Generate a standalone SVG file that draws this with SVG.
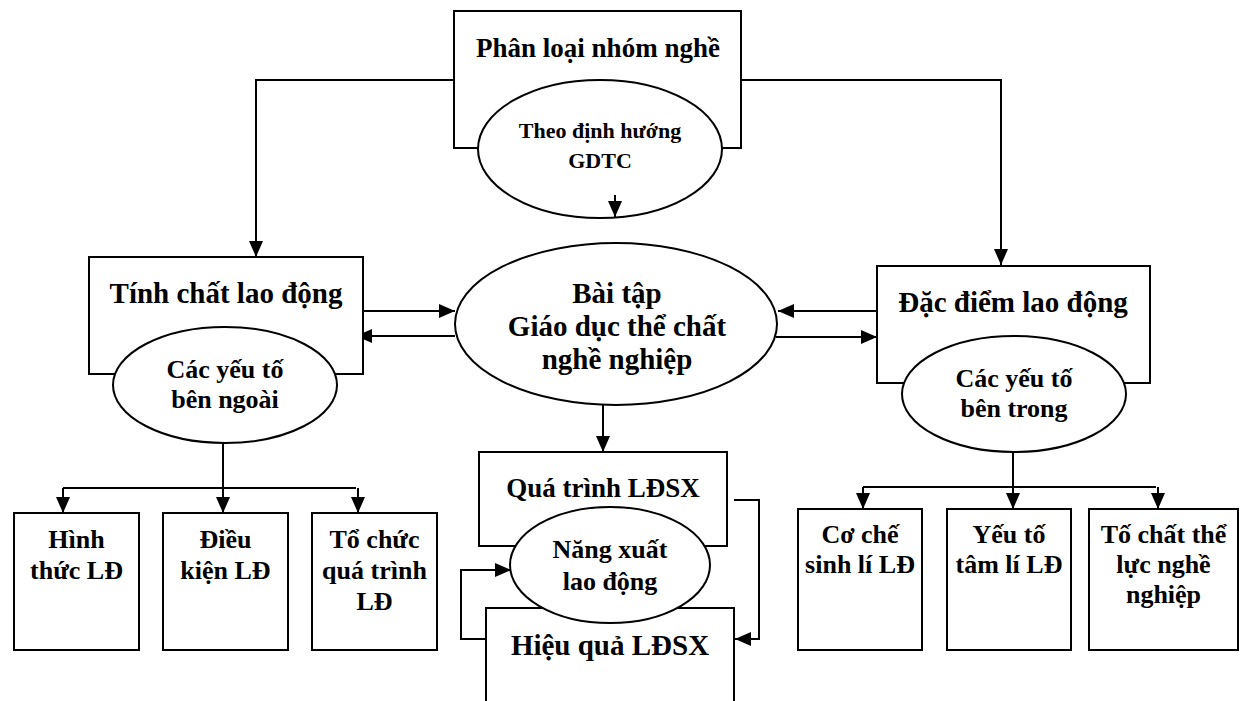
<svg xmlns="http://www.w3.org/2000/svg" width="1243" height="701" viewBox="0 0 1243 701">
  <style>
    .box { fill: #fff; stroke: #000; stroke-width: 2; }
    .oval { fill: #fff; stroke: #000; stroke-width: 2; }
    .wire { fill: none; stroke: #000; stroke-width: 2; }
    .arr { marker-end: url(#head); }
    text { font-family: "Liberation Serif", "Times New Roman", serif; font-weight: bold; fill: #000; text-anchor: middle; }
    .t29 { font-size: 29px; }
    .t27 { font-size: 27px; }
    .t26 { font-size: 26px; }
    .t22 { font-size: 22px; }
  </style>
  <defs>
    <marker id="head" markerUnits="userSpaceOnUse" markerWidth="16" markerHeight="14" refX="16" refY="7" orient="auto">
      <path d="M0,0 L16,7 L0,14 Z" fill="#000"/>
    </marker>
  </defs>

  <rect width="1243" height="701" fill="#fff"/>

  <!-- connectors -->
  <g id="connectors">
    <!-- top box to the two side boxes -->
    <polyline class="wire arr" points="454,80 256,80 256,257"/>
    <polyline class="wire arr" points="741,80 1001,80 1001,265"/>
    <!-- left box <-> centre oval -->
    <line class="wire arr" x1="363" y1="311" x2="455" y2="311"/>
    <line class="wire arr" x1="455" y1="336" x2="356" y2="336"/>
    <!-- right box <-> centre oval -->
    <line class="wire arr" x1="877" y1="311" x2="778" y2="311"/>
    <line class="wire arr" x1="776" y1="337" x2="877" y2="337"/>
    <!-- centre oval down to production process -->
    <line class="wire arr" x1="603" y1="405" x2="603" y2="452"/>
    <!-- left branch -->
    <line class="wire" x1="223" y1="443" x2="223" y2="488"/>
    <line class="wire" x1="63" y1="488" x2="356" y2="488"/>
    <line class="wire arr" x1="63" y1="488" x2="63" y2="513"/>
    <line class="wire arr" x1="223" y1="488" x2="223" y2="513"/>
    <line class="wire arr" x1="358" y1="488" x2="358" y2="513"/>
    <!-- right branch -->
    <line class="wire" x1="1013" y1="452" x2="1013" y2="487"/>
    <line class="wire" x1="863" y1="487" x2="1156" y2="487"/>
    <line class="wire arr" x1="863" y1="487" x2="863" y2="509"/>
    <line class="wire arr" x1="1013" y1="487" x2="1013" y2="509"/>
    <line class="wire arr" x1="1158" y1="487" x2="1158" y2="509"/>
    <!-- feedback loops around productivity -->
    <polyline class="wire arr" points="734,500 759,500 759,639 735,639"/>
    <polyline class="wire arr" points="486,639 461,639 461,570 511,570"/>
  </g>

  <g id="phan-loai">
    <rect class="box" x="454" y="11" width="287" height="137"/>
    <text class="t27" x="598" y="57">Phân loại nhóm nghề</text>
  </g>
  <g id="theo-dinh-huong">
    <ellipse class="oval" cx="600" cy="149" rx="122" ry="69"/>
    <text class="t22" x="600" y="138">Theo định hướng</text>
    <text class="t22" x="600" y="168">GDTC</text>
    <line class="wire arr" x1="615" y1="195" x2="615" y2="217"/>
  </g>

  <g id="tinh-chat">
    <rect class="box" x="89" y="257" width="274" height="117"/>
    <text class="t29" x="226" y="303">Tính chất lao động</text>
  </g>
  <g id="yeu-to-ngoai">
    <ellipse class="oval" cx="225" cy="385" rx="112" ry="58"/>
    <text class="t26" x="225" y="378">Các yếu tố</text>
    <text class="t26" x="225" y="408">bên ngoài</text>
  </g>

  <g id="bai-tap">
    <ellipse class="oval" cx="616" cy="324" rx="161" ry="81"/>
    <text class="t29" x="617" y="303">Bài tập</text>
    <text class="t29" x="617" y="336">Giáo dục thể chất</text>
    <text class="t29" x="617" y="369">nghề nghiệp</text>
  </g>

  <g id="dac-diem">
    <rect class="box" x="877" y="266" width="273" height="117"/>
    <text class="t29" x="1013" y="312">Đặc điểm lao động</text>
  </g>
  <g id="yeu-to-trong">
    <ellipse class="oval" cx="1014" cy="394" rx="112" ry="58"/>
    <text class="t26" x="1014" y="387">Các yếu tố</text>
    <text class="t26" x="1014" y="417">bên trong</text>
  </g>

  <g id="hinh-thuc">
    <rect class="box" x="14" y="513" width="125" height="137"/>
    <text class="t26" x="76.5" y="548">Hình</text>
    <text class="t26" x="76.5" y="579">thức LĐ</text>
  </g>
  <g id="dieu-kien">
    <rect class="box" x="163" y="513" width="125" height="137"/>
    <text class="t26" x="225.5" y="548">Điều</text>
    <text class="t26" x="225.5" y="579">kiện LĐ</text>
  </g>
  <g id="to-chuc">
    <rect class="box" x="312" y="513" width="125" height="137"/>
    <text class="t26" x="374.5" y="548">Tổ chức</text>
    <text class="t26" x="374.5" y="579">quá trình</text>
    <text class="t26" x="374.5" y="610">LĐ</text>
  </g>

  <g id="qua-trinh">
    <rect class="box" x="479" y="452" width="248" height="94"/>
    <text class="t27" x="603" y="497">Quá trình LĐSX</text>
  </g>
  <g id="hieu-qua">
    <path class="wire" d="M486,705 V608 H734 V705"/>
    <text class="t29" x="610" y="655">Hiệu quả LĐSX</text>
  </g>
  <g id="nang-xuat">
    <ellipse class="oval" cx="610" cy="565" rx="100" ry="58"/>
    <text class="t26" x="610" y="558">Năng xuất</text>
    <text class="t26" x="610" y="590">lao động</text>
  </g>

  <g id="co-che">
    <rect class="box" x="798" y="509" width="124" height="141"/>
    <text class="t26" x="860" y="543">Cơ chế</text>
    <text class="t26" x="860" y="573">sinh lí LĐ</text>
  </g>
  <g id="yeu-to-tam-li">
    <rect class="box" x="947" y="509" width="124" height="141"/>
    <text class="t26" x="1009" y="543">Yếu tố</text>
    <text class="t26" x="1009" y="573">tâm lí LĐ</text>
  </g>
  <g id="to-chat">
    <rect class="box" x="1089" y="509" width="149" height="141"/>
    <text class="t26" x="1163.5" y="543">Tố chất thể</text>
    <text class="t26" x="1163.5" y="573">lực nghề</text>
    <text class="t26" x="1163.5" y="603">nghiệp</text>
  </g>
</svg>
